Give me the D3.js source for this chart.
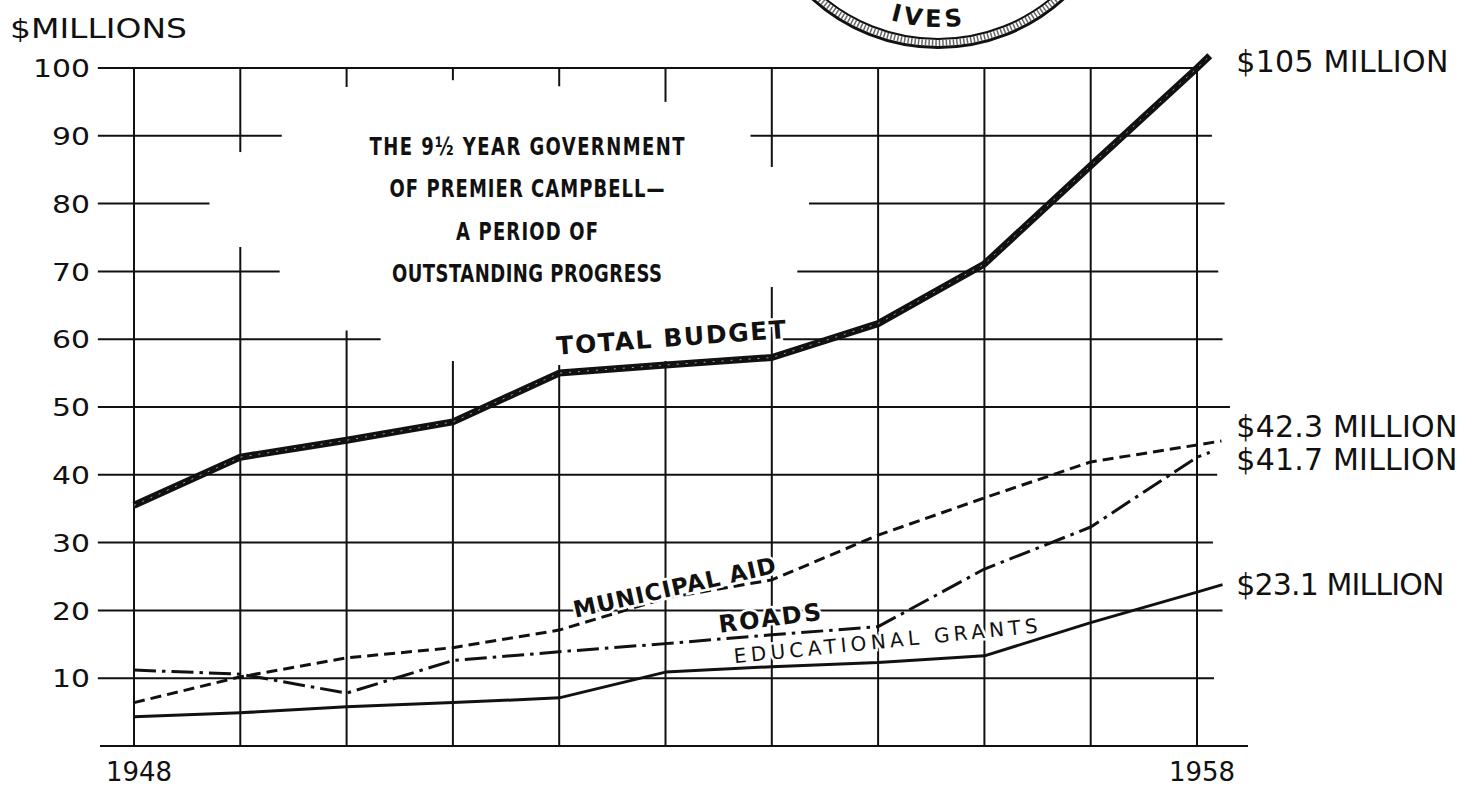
<!DOCTYPE html>
<html>
<head>
<meta charset="utf-8">
<script src="https://cdn.jsdelivr.net/npm/d3@7"></script>
<style>
  html, body { margin: 0; background: #fff; }
  svg { display: block; }
</style>
</head>
<body>
<div id="chart"></div>
<script>
// --- data ---
const years = [1948, 1949, 1950, 1951, 1952, 1953, 1954, 1955, 1956, 1957, 1958];
const totalBudget       = [35.5, 42.6, 45.1, 47.8, 55.0, 56.2, 57.3, 62.3, 71.1, 85.6, 100.0];
const municipalAid      = [6.4, 10.2, 13.0, 14.5, 17.1, 21.8, 24.5, 31.1, 36.6, 41.9, 44.4];
const roads             = [11.2, 10.6, 7.8, 12.6, 13.9, 15.1, 16.4, 17.6, 26.1, 32.3, 42.6];
const educationalGrants = [4.3, 4.9, 5.8, 6.4, 7.1, 10.9, 11.7, 12.3, 13.3, 18.2, 22.7];

// each line runs a little past 1958 before it stops
const tailYear  = [1958.12, 1958.23, 1958.12, 1958.24];
const tailValue = [101.8, 45.0, 43.3, 23.8];

const seriesNames = ["TOTAL BUDGET", "MUNICIPAL AID", "ROADS", "EDUCATIONAL GRANTS"];
const endLabels   = ["$105 MILLION", "$42.3 MILLION", "$41.7 MILLION", "$23.1 MILLION"];

const yTicks = [10, 20, 30, 40, 50, 60, 70, 80, 90, 100];
const xTickLabels = [1948, 1958];

const titleLines = [
  "THE 9\u00BD YEAR GOVERNMENT",
  "OF PREMIER CAMPBELL\u2014",
  "A PERIOD OF",
  "OUTSTANDING PROGRESS"
];

// the grid is broken where the title sits: [value, fromYear, toYear]
const hGrid = [
  [100, 1947.66, 1958.0],
  [90, 1947.66, 1949.39], [90, 1953.8, 1958.14],
  [80, 1947.66, 1948.71], [80, 1954.35, 1958.26],
  [70, 1947.66, 1949.37], [70, 1954.24, 1958.2],
  [60, 1947.66, 1950.32], [60, 1954.1, 1958.24],
  [50, 1947.66, 1958.31],
  [40, 1947.66, 1958.19],
  [30, 1947.66, 1958.15],
  [20, 1947.66, 1958.24],
  [10, 1947.66, 1958.16],
  [0, 1947.68, 1958.48]
];
// [year, fromValue, toValue]
const vGrid = [
  [1948, 0, 100],
  [1949, 0, 73.6], [1949, 87.6, 100],
  [1950, 0, 61.3], [1950, 97.2, 100],
  [1951, 0, 56.8], [1951, 98.2, 100],
  [1952, 0, 56.2], [1952, 97.3, 100],
  [1953, 0, 56.8], [1953, 95.0, 100],
  [1954, 0, 67.7], [1954, 85.4, 100],
  [1955, 0, 100], [1956, 0, 100], [1957, 0, 100], [1958, 0, 100]
];

// --- drawing ---
const W = 1472, H = 786;
const svg = d3.select("#chart").append("svg").attr("width", W).attr("height", H);

const x = d3.scaleLinear().domain([1948, 1958]).range([134, 1197]);
const y = d3.scaleLinear().domain([0, 100]).range([746, 68]);

const labelFont = "'DejaVu Sans', 'Liberation Sans', sans-serif";
const titleFont = "'Liberation Sans Narrow', 'DejaVu Sans Condensed', sans-serif";

// archive stamp peeking in at the top
const stamp = svg.append("g");
const cx = 938, cy = -139;
stamp.append("circle").attr("cx", cx).attr("cy", cy).attr("r", 186.5)
  .attr("fill", "none").attr("stroke", "#111").attr("stroke-width", 3);
stamp.append("circle").attr("cx", cx).attr("cy", cy).attr("r", 182)
  .attr("fill", "none").attr("stroke", "#666").attr("stroke-width", 6).attr("stroke-dasharray", "1.5 2");
stamp.append("circle").attr("cx", cx).attr("cy", cy).attr("r", 178)
  .attr("fill", "none").attr("stroke", "#111").attr("stroke-width", 2);
const rText = 166;
svg.append("defs").append("path").attr("id", "stampArc")
  .attr("d", `M${cx - rText},${cy} A${rText},${rText} 0 0 0 ${cx + rText},${cy}`);
stamp.append("text")
  .attr("font-family", labelFont).attr("font-weight", "bold").attr("font-size", 24)
  .attr("letter-spacing", 4).attr("fill", "#111")
  .append("textPath").attr("href", "#stampArc")
  .attr("startOffset", Math.PI * rText / 2 - 10).attr("text-anchor", "middle")
  .text("IVES");

// grid
const grid = svg.append("g").attr("stroke", "#111").attr("stroke-width", 2);
grid.selectAll("line.h").data(hGrid).join("line").attr("class", "h")
  .attr("x1", d => x(d[1])).attr("x2", d => x(d[2]))
  .attr("y1", d => y(d[0])).attr("y2", d => y(d[0]));
grid.selectAll("line.v").data(vGrid).join("line").attr("class", "v")
  .attr("x1", d => x(d[0])).attr("x2", d => x(d[0]))
  .attr("y1", d => y(d[1])).attr("y2", d => y(d[2]));

// axis labels (wide round digits, so glyphs get stretched)
svg.append("g").selectAll("text").data(yTicks).join("text")
  .attr("x", 90).attr("y", d => y(d)).attr("dy", "0.37em")
  .attr("text-anchor", "end")
  .attr("font-family", labelFont).attr("font-size", 25).attr("fill", "#111")
  .attr("textLength", d => String(d).length * 19).attr("lengthAdjust", "spacingAndGlyphs")
  .text(d => d);

svg.append("g").selectAll("text").data(xTickLabels).join("text")
  .attr("x", d => x(d) + 5).attr("y", 781)
  .attr("text-anchor", "middle")
  .attr("font-family", labelFont).attr("font-size", 26).attr("fill", "#111")
  .text(d => d);

svg.append("text")
  .attr("x", 10).attr("y", 38)
  .attr("font-family", labelFont).attr("font-size", 26).attr("fill", "#111")
  .attr("textLength", 177).attr("lengthAdjust", "spacingAndGlyphs")
  .text("$MILLIONS");

// title block: condensed heavy letters, widely spaced
const titleSquash = 0.8;
const titleWidths = [315, 275, 142, 270];
svg.append("g").selectAll("text").data(titleLines).join("text")
  .attr("transform", (d, i) => `translate(527,${155 + i * 42.3}) scale(${titleSquash},1)`)
  .attr("text-anchor", "middle")
  .attr("font-family", titleFont).attr("font-weight", "bold").attr("font-size", 25)
  .attr("fill", "#111")
  .attr("textLength", (d, i) => titleWidths[i] / titleSquash).attr("lengthAdjust", "spacing")
  .text(d => d);

// series
const allSeries = [totalBudget, municipalAid, roads, educationalGrants].map((vals, k) =>
  years.map((yr, i) => [yr, vals[i]]).concat([[tailYear[k], tailValue[k]]]));

const line = d3.line().x(d => x(d[0])).y(d => y(d[1]));
const lineStyles = [
  { width: 7, dash: null },
  { width: 3, dash: "11 6" },
  { width: 3, dash: "22 6 3.5 6" },
  { width: 3, dash: null }
];

const lines = svg.append("g").attr("fill", "none").attr("stroke-linejoin", "round");
lines.selectAll("path").data(allSeries).join("path")
  .attr("d", line)
  .attr("stroke", "#111")
  .attr("stroke-width", (d, i) => lineStyles[i].width)
  .attr("stroke-dasharray", (d, i) => lineStyles[i].dash);

// speckled core of the heavy budget line
lines.append("path").datum(allSeries[0])
  .attr("d", line).attr("stroke", "#fff").attr("stroke-width", 1)
  .attr("stroke-dasharray", "2 7").attr("opacity", 0.6);

// labels laid along the lines: anchor in data units, angle in degrees, length in px
const lineLabelPos = [[1951.98, 57.7], [1952.15, 18.9], [1953.51, 16.7], [1953.65, 12.2]];
const lineLabelStyle = [
  { angle: -4.2, size: 25, weight: "bold", len: 230 },
  { angle: -12.6, size: 23, weight: "bold", len: 207 },
  { angle: -7.3, size: 24, weight: "bold", len: 103 },
  { angle: -5.8, size: 20, weight: "normal", len: 305 }
];
svg.append("g").selectAll("text").data(seriesNames).join("text")
  .attr("transform", (d, i) =>
    `translate(${x(lineLabelPos[i][0])},${y(lineLabelPos[i][1])}) rotate(${lineLabelStyle[i].angle})`)
  .attr("font-family", labelFont)
  .attr("font-size", (d, i) => lineLabelStyle[i].size)
  .attr("font-weight", (d, i) => lineLabelStyle[i].weight)
  .attr("textLength", (d, i) => lineLabelStyle[i].len).attr("lengthAdjust", "spacing")
  .attr("fill", "#111")
  .attr("stroke", "#fff").attr("stroke-width", 5).attr("paint-order", "stroke")
  .text(d => d);

// end-of-line amounts
const endLabelY = [99.4, 45.6, 40.7, 22.3];
svg.append("g").selectAll("text").data(endLabels).join("text")
  .attr("x", x(1958.37)).attr("y", (d, i) => y(endLabelY[i]))
  .attr("font-family", labelFont).attr("font-size", 30).attr("fill", "#111")
  .attr("textLength", (d, i) => [212, 221, 221, 208][i]).attr("lengthAdjust", "spacing")
  .text(d => d);
</script>
</body>
</html>
